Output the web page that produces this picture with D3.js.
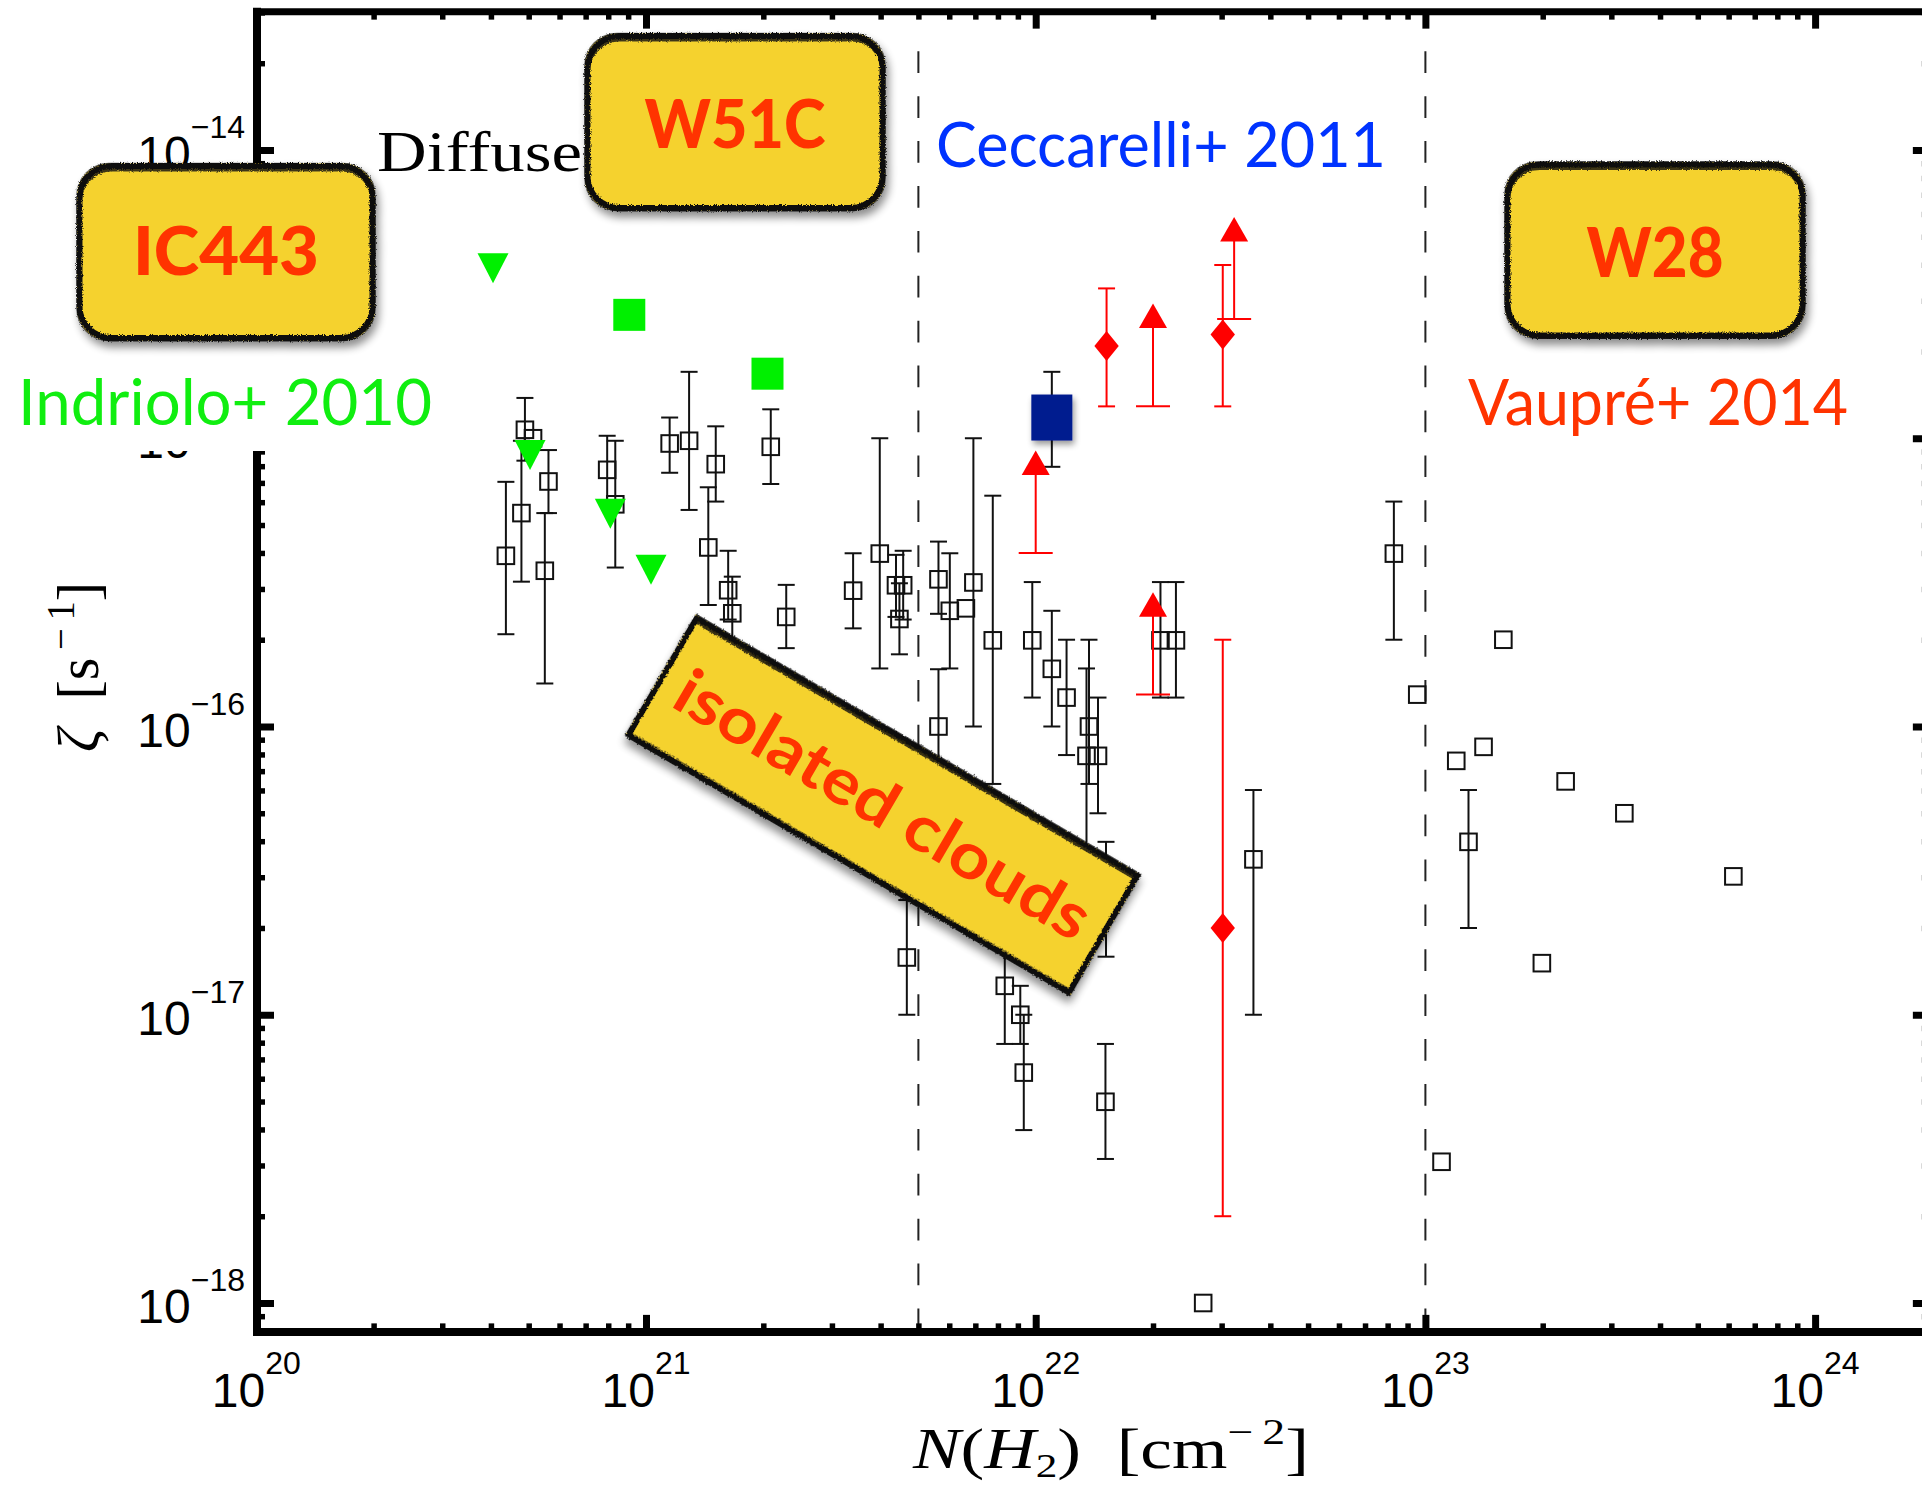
<!DOCTYPE html>
<html>
<head>
<meta charset="utf-8">
<script src="https://cdn.jsdelivr.net/npm/d3@7"></script>
<style>
  html, body { margin: 0; padding: 0; background: #fff; }
  svg { display: block; }
</style>
</head>
<body>
<script>
// ---- Isolated clouds compilation: N(H2) [cm^-2], zeta [s^-1], error-bar ends (null = none)
const isoN = [4.37e20, 4.79e20, 4.89e20, 5.13e20, 5.50e20, 5.62e20, 7.95e20, 8.34e20, 1.15e21, 1.29e21,
              1.445e21, 1.51e21, 1.625e21, 1.665e21, 2.09e21, 2.29e21, 3.40e21, 3.98e21, 4.38e21, 4.47e21,
              4.57e21, 4.67e21, 5.63e21, 5.63e21, 6.02e21, 6.62e21, 6.92e21, 7.76e21, 8.33e21, 9.13e21,
              9.32e21, 9.80e21, 1.10e22, 1.20e22, 1.35e22, 1.37e22, 1.445e22, 1.51e22, 1.515e22, 2.09e22,
              2.29e22, 2.69e22, 3.62e22, 8.30e22, 9.53e22, 1.10e23, 1.20e23, 1.29e23, 1.41e23, 1.585e23,
              1.99e23, 2.29e23, 3.24e23, 6.17e23];
const isoZeta = [3.91e-16, 5.50e-16, 1.07e-15, 1.00e-15, 3.47e-16, 7.08e-16, 7.77e-16, 5.90e-16, 9.59e-16, 9.80e-16,
                 4.18e-16, 8.13e-16, 2.97e-16, 2.47e-16, 9.34e-16, 2.40e-16, 2.96e-16, 3.98e-16, 3.09e-16, 2.36e-16,
                 3.09e-16, 1.58e-17, 3.24e-16, 1.00e-16, 2.52e-16, 2.57e-16, 3.16e-16, 1.99e-16, 1.26e-17, 1.00e-17,
                 6.30e-18, 1.99e-16, 1.585e-16, 1.26e-16, 7.91e-17, 1.00e-16, 7.91e-17, 4.99e-18, 2.52e-17, 1.99e-16,
                 1.99e-16, 1.00e-18, 3.46e-17, 3.98e-16, 1.29e-16, 3.09e-18, 7.60e-17, 3.98e-17, 8.50e-17, 2.00e-16,
                 1.51e-17, 6.45e-17, 5.00e-17, 3.02e-17];
const isoHi = [7.06e-16, 9.80e-16, 1.38e-15, null, 5.50e-16, 9.10e-16, 1.02e-15, 9.80e-16, 1.18e-15, 1.70e-15,
               6.76e-16, 1.10e-15, 4.07e-16, 3.31e-16, 1.26e-15, 3.10e-16, 3.99e-16, 1.00e-15, 3.94e-16, 3.14e-16,
               4.07e-16, 2.50e-17, 4.38e-16, 1.58e-16, 3.99e-16, null, 1.00e-15, 6.32e-16, 2.00e-17, 1.26e-17,
               1.00e-17, 3.17e-16, 2.52e-16, 2.00e-16, 1.59e-16, 2.00e-16, 1.26e-16, 7.92e-18, 3.98e-17, 3.17e-16,
               3.17e-16, null, 6.02e-17, 6.03e-16, null, null, null, 6.02e-17, null, null,
               null, null, null, null];
const isoLo = [2.09e-16, 3.18e-16, 8.36e-16, null, 1.41e-16, 5.50e-16, 5.91e-16, 3.56e-16, 7.59e-16, 5.64e-16,
               2.64e-16, 6.03e-16, 2.35e-16, 1.84e-16, 6.94e-16, 1.87e-16, 2.19e-16, 1.59e-16, 2.40e-16, 1.78e-16,
               2.35e-16, 1.00e-17, 2.46e-16, 6.27e-17, 1.59e-16, null, 1.00e-16, 6.32e-17, 7.92e-18, 7.92e-18,
               3.98e-18, 1.26e-16, 1.00e-16, 7.96e-17, 3.18e-17, 6.32e-17, 5.00e-17, 3.16e-18, 1.59e-17, 1.26e-16,
               1.26e-16, null, 1.00e-17, 2.00e-16, null, null, null, 2.00e-17, null, null,
               null, null, null, null];

// ---- Indriolo+ 2010 (diffuse clouds): upper limits and detections
const indUpperN = [4.05e20, 5.04e20, 8.10e20, 1.03e21];
const indUpperZeta = [3.89e-15, 8.75e-16, 5.47e-16, 3.50e-16];
const indDetN = [9.06e20, 2.05e21];
const indDetZeta = [2.68e-15, 1.675e-15];

// ---- Ceccarelli+ 2011
const cecN = [1.10e22];
const cecZeta = [1.18e-15];
const cecHi = [1.70e-15];
const cecLo = [7.96e-16];

// ---- Vaupré+ 2014: measurements and lower limits
const vauN = [1.52e22, 3.02e22, 3.02e22];
const vauZeta = [2.09e-15, 2.29e-15, 2.00e-17];
const vauHi = [3.31e-15, 3.99e-15, 2.00e-16];
const vauLo = [1.29e-15, 1.29e-15, 2.00e-18];
const vauLimN = [1.00e22, 2.00e22, 2.00e22, 3.23e22];
const vauLimZeta = [8.22e-16, 2.66e-15, 2.65e-16, 5.31e-15];
const vauLimLo = [4.00e-16, 1.29e-15, 1.29e-16, 2.59e-15];

// ---- Region boundaries (dashed)
const boundaryN = [5e21, 1e23];

// ---- Axis ticks
const xMajor = [1e20, 1e21, 1e22, 1e23, 1e24];
const xExp = ["20", "21", "22", "23", "24"];
const yMajor = [1e-18, 1e-17, 1e-16, 1e-15, 1e-14];
const yExp = ["\u221218", "\u221217", "\u221216", "\u221215", "\u221214"];

const W = 1922, H = 1488;
const YELLOW = "#f5d22d";
const ORANGE = "#ff3300";
const GREEN = "#00f000";
const RED = "#ff0000";

const x = d3.scaleLog().domain([1e20, 1e24]).range([256.3, 1815.1]);
const y = d3.scaleLog().domain([1e-18, 1e-14]).range([1303, 150]);
const xEnd = [1e20, 1.97e24];
const yEnd = [7.94e-19, 3.02e-14];

const xMinor = [], yMinor = [];
for (let e = 20; e <= 24; e++) for (let m = 2; m <= 9; m++) { const v = m * 10 ** e; if (v < xEnd[1]) xMinor.push(v); }
for (let e = -19; e <= -14; e++) for (let m = 2; m <= 9; m++) { const v = m * 10 ** e; if (v > yEnd[0] && v < yEnd[1]) yMinor.push(v); }

const svg = d3.select("body").append("svg").attr("width", W).attr("height", H);
const defs = svg.append("defs");

// soft drop shadow
const sh = defs.append("filter").attr("id", "shadow").attr("x", "-20%").attr("y", "-20%").attr("width", "150%").attr("height", "160%");
sh.append("feGaussianBlur").attr("in", "SourceAlpha").attr("stdDeviation", 4);
sh.append("feOffset").attr("dx", 3).attr("dy", 6).attr("result", "blur");
sh.append("feComponentTransfer").attr("in", "blur").attr("result", "faded")
  .append("feFuncA").attr("type", "linear").attr("slope", 0.45);
const shm = sh.append("feMerge");
shm.append("feMergeNode").attr("in", "faded");
shm.append("feMergeNode").attr("in", "SourceGraphic");

// small shadow for the filled marker
const sh2 = defs.append("filter").attr("id", "mshadow").attr("x", "-30%").attr("y", "-30%").attr("width", "170%").attr("height", "170%");
sh2.append("feGaussianBlur").attr("in", "SourceAlpha").attr("stdDeviation", 3);
sh2.append("feOffset").attr("dx", 2).attr("dy", 4).attr("result", "b");
sh2.append("feComponentTransfer").attr("in", "b").attr("result", "f")
  .append("feFuncA").attr("type", "linear").attr("slope", 0.4);
const sh2m = sh2.append("feMerge");
sh2m.append("feMergeNode").attr("in", "f");
sh2m.append("feMergeNode").attr("in", "SourceGraphic");

// rough, hand-drawn looking stroke
const rough = defs.append("filter").attr("id", "rough").attr("x", "-10%").attr("y", "-10%").attr("width", "120%").attr("height", "120%");
rough.append("feTurbulence").attr("type", "fractalNoise").attr("baseFrequency", 0.9).attr("numOctaves", 2).attr("seed", 4).attr("result", "n");
rough.append("feDisplacementMap").attr("in", "SourceGraphic").attr("in2", "n").attr("scale", 4)
  .attr("xChannelSelector", "R").attr("yChannelSelector", "G");

// ---------- dashed boundaries
svg.append("g").selectAll("line").data(boundaryN).join("line")
  .attr("x1", d => x(d)).attr("x2", d => x(d))
  .attr("y1", y(2.2e-14)).attr("y2", y(yEnd[0]))
  .attr("stroke", "#222").attr("stroke-width", 2).attr("stroke-dasharray", "21.7 23.2");

// ---------- axes (ticks inward on all four sides)
function ticks(axis, scale, vals, size, width, tr) {
  const g = svg.append("g").attr("transform", tr)
    .call(axis(scale).tickValues(vals).tickSize(size).tickFormat(""));
  g.select(".domain").remove();
  g.selectAll(".tick line").attr("stroke", "#000").attr("stroke-width", width);
  return g;
}
const xL = x(xEnd[0]) + 0.7, xR = x(xEnd[1]), yB = y(yEnd[0]), yT = y(yEnd[1]);
ticks(d3.axisBottom, x, xMajor, -17, 7, `translate(0,${yB})`);
ticks(d3.axisBottom, x, xMinor, -8.5, 5.5, `translate(0,${yB})`);
ticks(d3.axisTop, x, xMajor, -17, 7, `translate(0,${yT})`);
ticks(d3.axisTop, x, xMinor, -8, 5.5, `translate(0,${yT})`);
ticks(d3.axisLeft, y, yMajor, -17, 7, `translate(${xL},0)`);
ticks(d3.axisLeft, y, yMinor, -8, 5.5, `translate(${xL},0)`);
ticks(d3.axisRight, y, yMajor, -17, 7, `translate(${xR},0)`);
ticks(d3.axisRight, y, yMinor, -8, 5.5, `translate(${xR},0)`);

const frame = svg.append("g").attr("stroke", "#000").attr("stroke-width", 8).attr("stroke-linecap", "square");
frame.append("line").attr("x1", xL).attr("x2", xR).attr("y1", yB).attr("y2", yB);
frame.append("line").attr("x1", xL).attr("x2", xR).attr("y1", yT).attr("y2", yT).attr("stroke-width", 7);
frame.append("line").attr("x1", xL).attr("x2", xL).attr("y1", yT).attr("y2", yB);
frame.append("line").attr("x1", xR).attr("x2", xR).attr("y1", yT).attr("y2", yB);

// tick labels
const tickFont = "'Liberation Sans', Arial, sans-serif";
svg.append("g").selectAll("text").data(xMajor).join("text")
  .attr("x", d => x(d)).attr("y", 1407).attr("text-anchor", "middle")
  .attr("font-family", tickFont).attr("font-size", 48).attr("fill", "#000")
  .each(function (d, i) {
    const t = d3.select(this);
    t.append("tspan").text("10");
    t.append("tspan").attr("font-size", 32).attr("dy", -33).text(xExp[i]);
  });
svg.append("g").selectAll("text").data(yMajor).join("text")
  .attr("x", 245).attr("y", d => y(d) + 20).attr("text-anchor", "end")
  .attr("font-family", tickFont).attr("font-size", 48).attr("fill", "#000")
  .each(function (d, i) {
    const t = d3.select(this);
    t.append("tspan").text("10");
    t.append("tspan").attr("font-size", 32).attr("dy", -32).text(yExp[i]);
  });

// axis titles
const serif = "'Liberation Serif', 'DejaVu Serif', serif";
const xt = svg.append("text").attr("x", 913).attr("y", 1468)
  .attr("font-family", serif).attr("font-size", 56).attr("fill", "#000")
  .attr("textLength", 396).attr("lengthAdjust", "spacingAndGlyphs");
xt.append("tspan").attr("font-style", "italic").text("N");
xt.append("tspan").text("(");
xt.append("tspan").attr("font-style", "italic").text("H");
xt.append("tspan").attr("font-size", 34).attr("dy", 9).text("2");
xt.append("tspan").attr("dy", -9).text(")\u2002[cm");
xt.append("tspan").attr("font-size", 36).attr("dy", -24).text("\u2212\u20092");
xt.append("tspan").attr("dy", 24).text("]");

const yt = svg.append("text").attr("transform", "translate(98,752) rotate(-90)")
  .attr("font-family", serif).attr("font-size", 60).attr("fill", "#000")
  .attr("textLength", 170).attr("lengthAdjust", "spacingAndGlyphs");
yt.append("tspan").attr("font-style", "italic").text("\u03B6");
yt.append("tspan").text("\u2002[s");
yt.append("tspan").attr("font-size", 40).attr("dy", -24).text("\u2009\u2212\u20091");
yt.append("tspan").attr("dy", 24).text("]");

// ---------- isolated clouds (open squares with error bars)
const iso = isoN.map((n, i) => ({ n, z: isoZeta[i], hi: isoHi[i], lo: isoLo[i] }));
const gIso = svg.append("g").attr("stroke", "#111").attr("fill", "none").attr("stroke-width", 2);
iso.filter(d => d.hi !== null).forEach(d => {
  const cx = x(d.n);
  gIso.append("line").attr("x1", cx).attr("x2", cx).attr("y1", y(d.hi)).attr("y2", y(d.lo));
  [d.hi, d.lo].forEach(v => gIso.append("line").attr("x1", cx - 8.5).attr("x2", cx + 8.5).attr("y1", y(v)).attr("y2", y(v)));
});
gIso.selectAll("rect").data(iso).join("rect")
  .attr("x", d => x(d.n) - 8.3).attr("y", d => y(d.z) - 8.3)
  .attr("width", 16.6).attr("height", 16.6);

// ---------- Ceccarelli+ 2011
const gC = svg.append("g");
cecN.forEach((n, i) => {
  const cx = x(n);
  gC.append("line").attr("x1", cx).attr("x2", cx).attr("y1", y(cecHi[i])).attr("y2", y(cecLo[i])).attr("stroke", "#111").attr("stroke-width", 2);
  [cecHi[i], cecLo[i]].forEach(v => gC.append("line").attr("x1", cx - 8.5).attr("x2", cx + 8.5).attr("y1", y(v)).attr("y2", y(v)).attr("stroke", "#111").attr("stroke-width", 2));
  gC.append("rect").attr("x", cx - 20.5).attr("y", y(cecZeta[i]) - 23).attr("width", 41).attr("height", 46)
    .attr("fill", "#001a8f").attr("filter", "url(#mshadow)");
});

// ---------- Vaupré+ 2014
const gV = svg.append("g").attr("stroke", RED).attr("stroke-width", 2);
vauN.forEach((n, i) => {
  const cx = x(n);
  gV.append("line").attr("x1", cx).attr("x2", cx).attr("y1", y(vauHi[i])).attr("y2", y(vauLo[i]));
  [vauHi[i], vauLo[i]].forEach(v => gV.append("line").attr("x1", cx - 8.5).attr("x2", cx + 8.5).attr("y1", y(v)).attr("y2", y(v)));
});
vauLimN.forEach((n, i) => {
  const cx = x(n), cy = y(vauLimZeta[i]);
  gV.append("line").attr("x1", cx).attr("x2", cx).attr("y1", cy).attr("y2", y(vauLimLo[i]));
  gV.append("line").attr("x1", cx - 17).attr("x2", cx + 17).attr("y1", y(vauLimLo[i])).attr("y2", y(vauLimLo[i]));
});
svg.append("g").selectAll("path").data(vauN).join("path")
  .attr("fill", RED)
  .attr("d", (n, i) => { const cx = x(n), cy = y(vauZeta[i]); return `M${cx},${cy - 15}L${cx + 12.2},${cy}L${cx},${cy + 15}L${cx - 12.2},${cy}Z`; });
svg.append("g").selectAll("path").data(vauLimN).join("path")
  .attr("fill", RED)
  .attr("d", (n, i) => { const cx = x(n), cy = y(vauLimZeta[i]); return `M${cx},${cy - 12.2}L${cx + 14},${cy + 12.2}L${cx - 14},${cy + 12.2}Z`; });

// ---------- Indriolo+ 2010
svg.append("g").selectAll("path").data(indUpperN).join("path")
  .attr("fill", GREEN)
  .attr("d", (n, i) => { const cx = x(n), cy = y(indUpperZeta[i]); return `M${cx - 15.5},${cy - 15}L${cx + 15.5},${cy - 15}L${cx},${cy + 15}Z`; });
svg.append("g").selectAll("rect").data(indDetN).join("rect")
  .attr("fill", GREEN)
  .attr("x", d => x(d) - 16).attr("y", (d, i) => y(indDetZeta[i]) - 16).attr("width", 32).attr("height", 32);

// ---------- annotation boxes
function sketchBox(cx, cy, w, h, r, angle) {
  const g = svg.append("g").attr("transform", `translate(${cx},${cy}) rotate(${angle})`);
  const body = g.append("g").attr("filter", "url(#shadow)");
  body.append("rect").attr("x", -w / 2).attr("y", -h / 2).attr("width", w).attr("height", h).attr("rx", r)
    .attr("fill", YELLOW);
  const s = body.append("g").attr("filter", "url(#rough)").attr("fill", "none").attr("stroke", "#111");
  s.append("rect").attr("x", -w / 2 + 2.5).attr("y", -h / 2 + 2.5).attr("width", w - 5).attr("height", h - 5).attr("rx", r)
    .attr("stroke-width", 6);
  s.append("rect").attr("x", -w / 2 + 3).attr("y", -h / 2 + 6).attr("width", w - 5).attr("height", h - 7).attr("rx", r)
    .attr("stroke-width", 4).attr("stroke-opacity", 0.8);
  s.append("rect").attr("x", -w / 2).attr("y", -h / 2).attr("width", w).attr("height", h).attr("rx", r)
    .attr("stroke-width", 1.5).attr("stroke-opacity", 0.6);
  return g;
}
const comic = "Lato, 'Open Sans', 'Noto Sans', sans-serif";
function boxLabel(g, txt, size, len, dy, weight) {
  g.append("text").attr("x", 0).attr("y", dy).attr("text-anchor", "middle")
    .attr("font-family", comic).attr("font-weight", weight || 700).attr("font-size", size).attr("fill", ORANGE)
    .attr("textLength", len).attr("lengthAdjust", "spacingAndGlyphs").text(txt);
}

// white backing behind the Indriolo label
svg.append("rect").attr("x", 0).attr("y", 338).attr("width", 440).attr("height", 113).attr("fill", "#fff");

boxLabel(sketchBox(226, 252, 298, 177, 32, 0), "IC443", 66, 186, 23, 900);
boxLabel(sketchBox(735, 122, 300, 177, 32, 0), "W51C", 67, 181, 26, 900);
boxLabel(sketchBox(1655, 250, 300, 176, 32, 0), "W28", 68, 137, 27, 900);
boxLabel(sketchBox(883, 805, 515, 140, 0, 30.3), "isolated clouds", 64, 470, 22, 700);

// source / regime labels
function label(txt, xx, yy, size, len, color, family) {
  svg.append("text").attr("x", xx).attr("y", yy)
    .attr("font-family", family || comic).attr("font-size", size).attr("fill", color)
    .attr("textLength", len).attr("lengthAdjust", "spacingAndGlyphs").text(txt);
}
label("Ceccarelli+ 2011", 936, 167, 61, 450, "#0033ff");
label("Indriolo+ 2010", 18, 425, 63, 414, "#10ee10");
label("Vaupré+ 2014", 1468, 425, 63, 380, ORANGE);
label("Diffuse", 377, 171, 58, 205, "#000", serif);
</script>
</body>
</html>
